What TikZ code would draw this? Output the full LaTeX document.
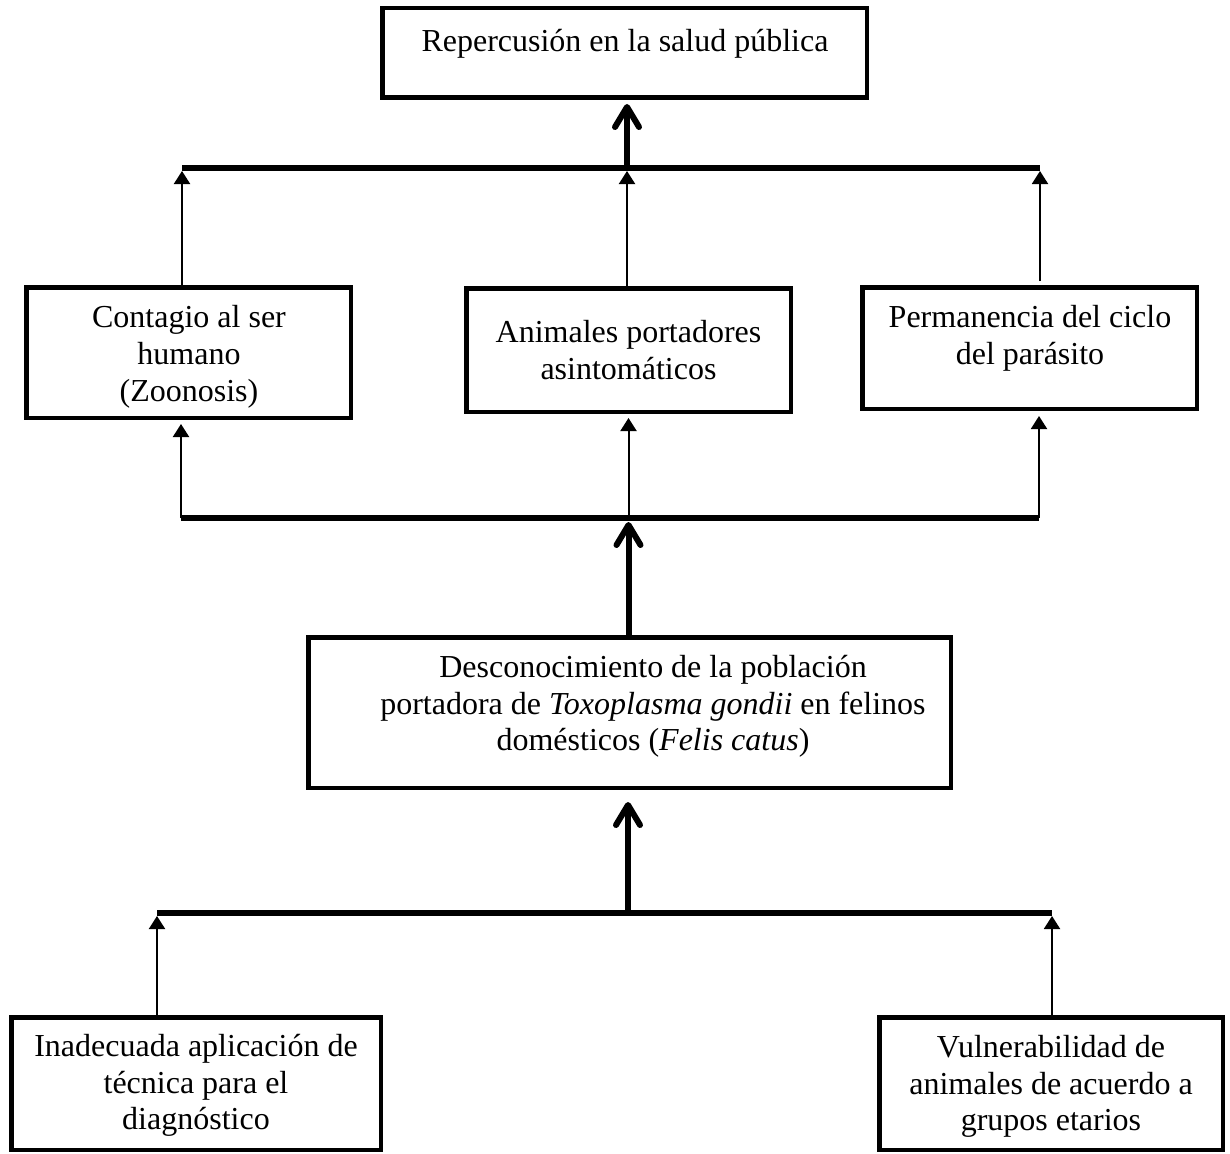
\documentclass[tikz,border=0pt]{standalone}
\usepackage{fontspec}
\setmainfont{Liberation Serif}
\usetikzlibrary{arrows.meta}
\begin{document}
\begin{tikzpicture}[x=1pt,y=-1pt,
  box/.style={draw, line width=4.5pt, inner sep=0pt, rectangle},
  txt/.style={align=center, inner sep=0pt, anchor=north, font=\fontsize{32}{36.8}\selectfont},
  barline/.style={line width=6pt},
  thinarrow/.style={line width=2pt, -{Triangle[length=13pt,width=16pt]}},
  thickarrow/.style={line width=6pt, -{Straight Barb[length=20pt,width=24pt,round]}},
]
\useasboundingbox (0,0) rectangle (1230,1153);

% boxes
\node[box, minimum width=484.5pt, minimum height=89.5pt] (top) at (624.5,53) {};
\node[box, minimum width=324.5pt, minimum height=130.5pt] (left) at (188.5,352.5) {};
\node[box, minimum width=324.5pt, minimum height=123.5pt] (mid) at (628.5,350) {};
\node[box, minimum width=334.5pt, minimum height=121.5pt] (right) at (1029.5,348) {};
\node[box, minimum width=642.5pt, minimum height=150.5pt] (desc) at (629.5,712.5) {};
\node[box, minimum width=369.5pt, minimum height=132.5pt] (bl) at (196,1083.5) {};
\node[box, minimum width=343.5pt, minimum height=132.5pt] (br) at (1051,1083.5) {};

% texts
\node[txt] (toptext) at (625,25.24) {\strut Repercusión en la salud pública};
\node[txt] (lefttext) at (189,301.74) {\strut Contagio al ser\\humano\\(Zoonosis)};
\node[txt] (midtext) at (628.5,316.24) {\strut Animales portadores\\asintomáticos};
\node[txt] (righttext) at (1030,301.24) {\strut Permanencia del ciclo\\del parásito};
\node[txt] (desctext) at (653,651.24) {\strut Desconocimiento de la población\\portadora de \textit{Toxoplasma gondii} en felinos\\domésticos (\textit{Felis catus})};
\node[txt] (bltext) at (196,1030.24) {\strut Inadecuada aplicación de\\técnica para el\\diagnóstico};
\node[txt] (brtext) at (1051,1031.24) {\strut Vulnerabilidad de\\animales de acuerdo a\\grupos etarios};

% bar coordinates
\coordinate (b1l) at (182,168);
\coordinate (b1m) at (627,168);
\coordinate (b1r) at (1040,168);
\coordinate (b2l) at (181,518);
\coordinate (b2m) at (628.5,518);
\coordinate (b2r) at (1039,518);
\coordinate (b3l) at (157,913);
\coordinate (b3m) at (628,913);
\coordinate (b3r) at (1052,913);

% thin arrows
\draw[thinarrow, shorten >=3pt] (left.north -| b1l) -- (b1l);
\draw[thinarrow, shorten >=3pt] (mid.north -| b1m) -- (b1m);
\draw[thinarrow, shorten >=3pt, shorten <=4pt] (right.north -| b1r) -- (b1r);
\draw[thinarrow, shorten >=4pt] (b2l) -- (b2l |- left.south);
\draw[thinarrow, shorten >=4pt] (b2m) -- (b2m |- mid.south);
\draw[thinarrow, shorten >=5pt] (b2r) -- (b2r |- right.south);
\draw[thinarrow, shorten >=3pt] (bl.north -| b3l) -- (b3l);
\draw[thinarrow, shorten >=3pt] (br.north -| b3r) -- (b3r);

% thick arrows
\draw[thickarrow, shorten >=4pt] (b1m) -- (b1m |- top.south);
\draw[thickarrow, shorten >=4pt] (desc.north -| b2m) -- (b2m);
\draw[thickarrow, shorten >=12pt] (b3m) -- (b3m |- desc.south);

% bars
\draw[barline] (b1l) -- (b1r);
\draw[barline] (b2l) -- (b2r);
\draw[barline] (b3l) -- (b3r);
\end{tikzpicture}
\end{document}
